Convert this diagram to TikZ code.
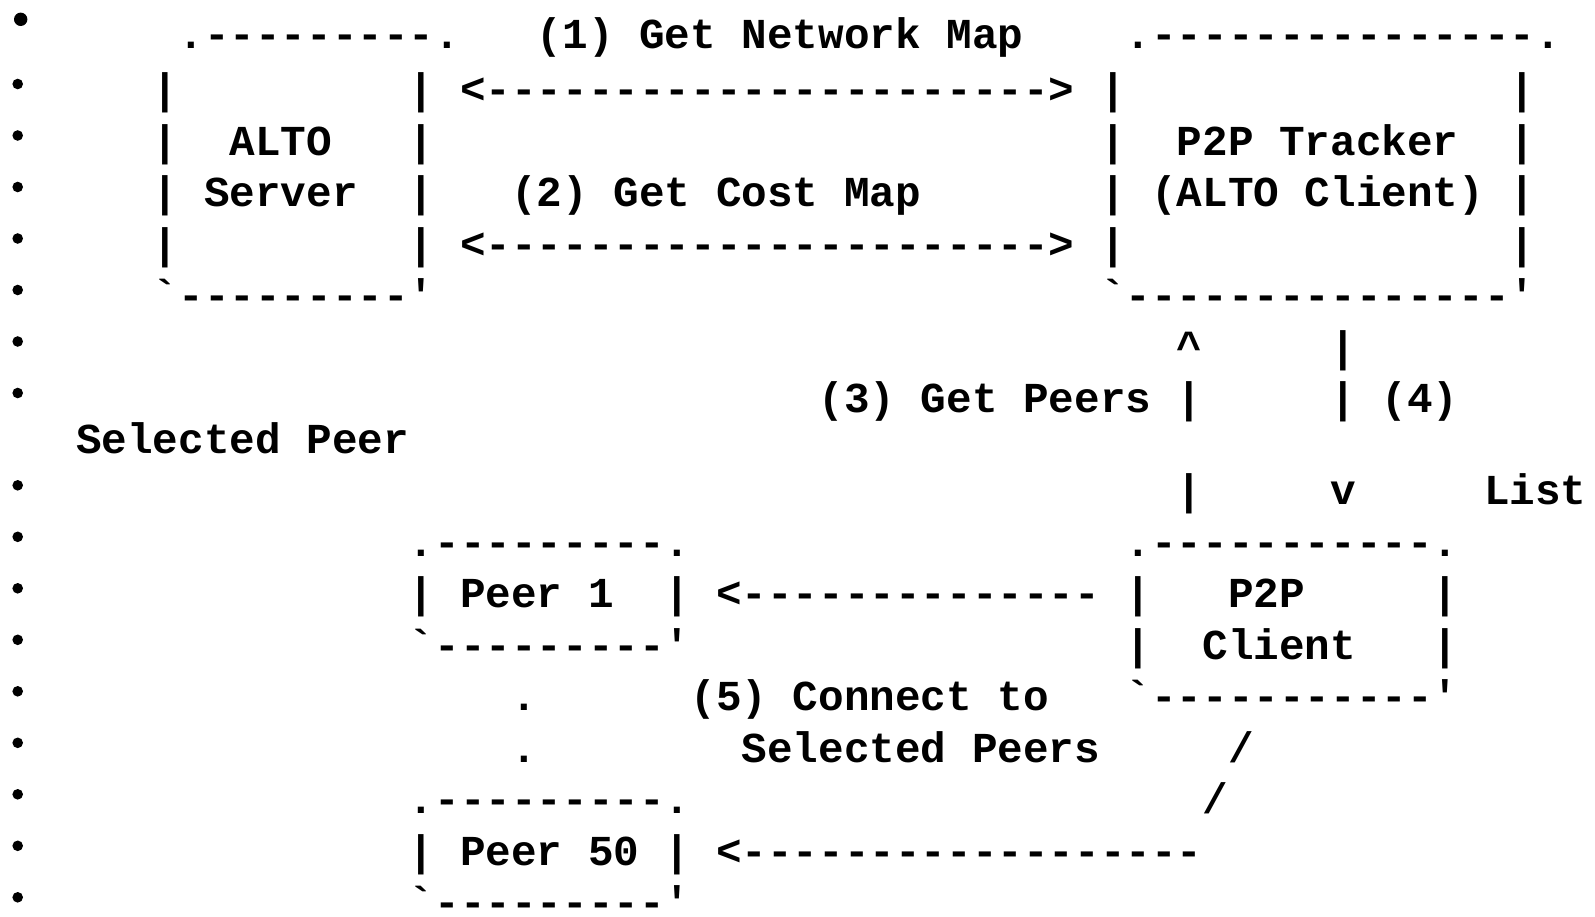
\documentclass[tikz,border=0pt]{standalone}
\usepackage{fontspec}
\setmonofont{Liberation Mono}
\usepackage{tikz}
\tikzset{
  ascii/.style={anchor=base west,inner sep=0pt,outer sep=0pt,
    font=\ttfamily\bfseries\fontsize{21.33pt}{21.33pt}\selectfont}
}
% one piece of the drawing: name, column, baseline, text
\newcommand\asciitext[4]{%
  \node[ascii] (#1) at ({152.9+25.6*(#2)}, #3) {#4}
}
\newcommand\asciibar[3]{%
  \asciitext{#1}{#2}{#3}{|}
}

\begin{document}
\begin{tikzpicture}[x=0.5pt,y=-0.5pt]
        \useasboundingbox (0,0) rectangle (1595,916);
        % The bullets
        \fill (20.7,19.3) circle (3.35pt);
        \foreach \i in {0,...,6} \fill (17.7,84+51.5*\i) circle (2.65pt);
        \foreach \i in {0,...,8} \fill (17.7,485.3+51.5*\i) circle (2.65pt);

        % ALTO Server and P2P Tracker
        \asciitext{srvtop}{1}{48.5}{.---------.};
        \asciitext{netmap}{15}{48.5}{(1) Get Network Map};
        \asciitext{trktop}{38}{48.5}{.---------------.};
        \asciibar{srvl1}{0}{103.5};
        \asciibar{srvr1}{10}{103.5};
        \asciitext{arrnet}{12}{103.5}{<---------------------->};
        \asciibar{trkl1}{37}{103.5};
        \asciibar{trkr1}{53}{103.5};
        \asciibar{srvl2}{0}{155};
        \asciitext{alto}{3}{155}{ALTO};
        \asciibar{srvr2}{10}{155};
        \asciibar{trkl2}{37}{155};
        \asciitext{tracker}{40}{155}{P2P Tracker};
        \asciibar{trkr2}{53}{155};
        \asciibar{srvl3}{0}{206.5};
        \asciitext{server}{2}{206.5}{Server};
        \asciibar{srvr3}{10}{206.5};
        \asciitext{costmap}{14}{206.5}{(2) Get Cost Map};
        \asciibar{trkl3}{37}{206.5};
        \asciitext{altocl}{39}{206.5}{(ALTO Client)};
        \asciibar{trkr3}{53}{206.5};
        \asciibar{srvl4}{0}{258};
        \asciibar{srvr4}{10}{258};
        \asciitext{arrcost}{12}{258}{<---------------------->};
        \asciibar{trkl4}{37}{258};
        \asciibar{trkr4}{53}{258};
        \asciitext{srvbot}{0}{309.5}{`---------'};
        \asciitext{trkbot}{37}{309.5}{`---------------'};

        % Tracker to client
        \asciitext{uptip}{40}{361}{\textasciicircum};
        \asciibar{down1}{46}{361};
        \asciitext{getpeers}{26}{412.5}{(3) Get Peers |};
        \asciitext{peerlist}{46}{412.5}{| (4)};
        \asciitext{selpeer}{-3}{453}{Selected Peer};
        \asciibar{up2}{40}{504.8};
        \asciitext{downtip}{46}{504.8}{v};
        \asciitext{list}{52}{504.8}{List};

        % The peers and the P2P client
        \asciitext{p1top}{10}{556.3}{.---------.};
        \asciitext{clitop}{38}{556.3}{.-----------.};
        \asciibar{p1l}{10}{607.8};
        \asciitext{peer1}{12}{607.8}{Peer 1};
        \asciibar{p1r}{20}{607.8};
        \asciitext{arrp1}{22}{607.8}{<--------------};
        \asciibar{clil1}{38}{607.8};
        \asciitext{clip2p}{42}{607.8}{P2P};
        \asciibar{clir1}{50}{607.8};
        \asciitext{p1bot}{10}{659.3}{`---------'};
        \asciibar{clil2}{38}{659.3};
        \asciitext{client}{41}{659.3}{Client};
        \asciibar{clir2}{50}{659.3};
        \asciitext{dot1}{14}{710.8}{.};
        \asciitext{connect}{21}{710.8}{(5) Connect to};
        \asciitext{clibot}{38}{710.8}{`-----------'};
        \asciitext{dot2}{14}{762.3}{.};
        \asciitext{selpeers}{23}{762.3}{Selected Peers};
        \asciitext{slash1}{42}{762.3}{/};
        \asciitext{p50top}{10}{813.8}{.---------.};
        \asciitext{slash2}{41}{813.8}{/};
        \asciitext{peer50}{10}{865.3}{| Peer 50 |};
        \asciitext{arrp50}{22}{865.3}{<------------------};
        \asciitext{p50bot}{10}{916.8}{`---------'};
    \end{tikzpicture}
\end{document}
